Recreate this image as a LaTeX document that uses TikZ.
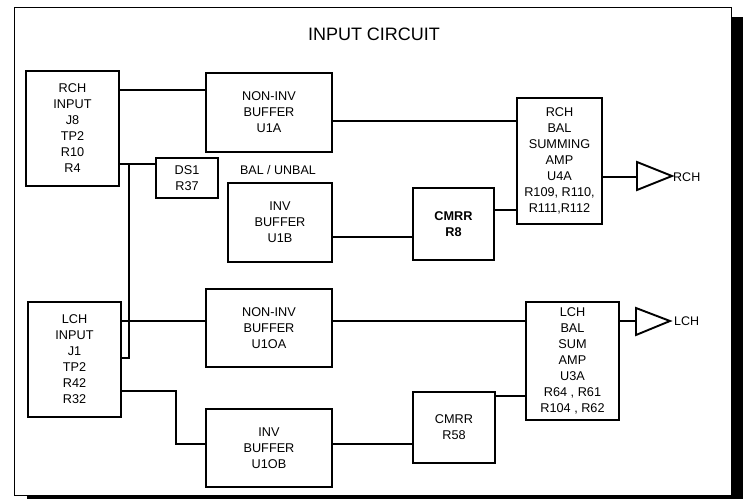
\documentclass[tikz,border=0pt]{standalone}
\usepackage{fontspec}
\setmainfont{Liberation Sans}
\begin{document}
\begin{tikzpicture}[x=1pt,y=-1pt,
  blk/.style={draw,line width=1.9pt,fill=white,align=center,inner sep=0pt,
    font=\fontsize{12.7}{16}\selectfont},
  wire/.style={line width=1.1pt},
  lbl/.style={font=\fontsize{12.5}{16}\selectfont,inner sep=0pt}]
\useasboundingbox (0,0) rectangle (743,499);
% shadow and frame
\fill[black] (27,17) rectangle (743,499);
\draw[line width=0.8pt,fill=white] (14,7) rectangle (731,495);
\node[font=\fontsize{18}{21}\selectfont,inner sep=0pt] (title) at (374,34) {INPUT CIRCUIT};
% blocks
\node[blk,minimum width=93pt,minimum height=115pt] (rin) at (72.5,128.5) {RCH\\INPUT\\J8\\TP2\\R10\\R4};
\node[blk,minimum width=126pt,minimum height=79pt] (u1a) at (269,112.5) {NON-INV\\BUFFER\\U1A};
\node[blk,minimum width=85pt,minimum height=126pt] (rsum) at (559.5,161) {RCH\\BAL\\SUMMING\\AMP\\U4A\\R109, R110,\\R111,R112};
\node[blk,minimum width=62pt,minimum height=40pt] (ds1) at (187,178) {DS1\\R37};
\node[lbl] (bal) at (278,170) {BAL / UNBAL};
\node[blk,minimum width=104pt,minimum height=79pt] (u1b) at (280,222.5) {INV\\BUFFER\\U1B};
\node[blk,minimum width=81pt,minimum height=72pt,font=\fontsize{12.7}{16}\selectfont\bfseries] (cmrr8) at (453.5,224) {CMRR\\R8};
\node[blk,minimum width=93pt,minimum height=115pt] (lin) at (74.5,359.5) {LCH\\INPUT\\J1\\TP2\\R42\\R32};
\node[blk,minimum width=126pt,minimum height=78pt] (u1oa) at (269,328) {NON-INV\\BUFFER\\U1OA};
\node[blk,minimum width=93pt,minimum height=118pt] (lsum) at (572.5,361) {LCH\\BAL\\SUM\\AMP\\U3A\\R64 , R61\\R104 , R62};
\node[blk,minimum width=126pt,minimum height=78pt] (u1ob) at (269,448) {INV\\BUFFER\\U1OB};
\node[blk,minimum width=82pt,minimum height=71pt] (cmrr58) at (454,427.5) {CMRR\\R58};
% output triangles
\coordinate (rtri) at (637,177);
\draw[line width=1.9pt,line join=miter] (rtri) -- (637,162) -- (672,176) -- (637,190) -- cycle;
\node[lbl,anchor=west] (rout) at (673,177) {RCH};
\coordinate (ltri) at (636,321);
\draw[line width=1.9pt,line join=miter] (ltri) -- (636,308) -- (670,321) -- (636,335) -- cycle;
\node[lbl,anchor=west] (lout) at (674,321) {LCH};
% junction coordinates
\coordinate (ja) at (129,164);
\coordinate (jb) at (129,358);
\coordinate (jc) at (176,391);
\coordinate (jd) at (176,444);
% wires
\draw[wire] (rin.east |- 0,90) -- (u1a.west |- 0,90);
\draw[wire] (u1a.east |- 0,121) -- (rsum.west |- 0,121);
\draw[wire] (rin.east |- 0,164) -- (ds1.west |- 0,164);
\draw[wire] (ja) -- (jb) -- (lin.east |- jb);
\draw[wire] (u1b.east |- 0,237) -- (cmrr8.west |- 0,237);
\draw[wire] (cmrr8.east |- 0,210) -- (rsum.west |- 0,210);
\draw[wire] (rsum.east |- rtri) -- (rtri);
\draw[wire] (lin.east |- 0,321) -- (u1oa.west |- 0,321);
\draw[wire] (u1oa.east |- 0,321) -- (lsum.west |- 0,321);
\draw[wire] (lsum.east |- ltri) -- (ltri);
\draw[wire] (lin.east |- jc) -- (jc) -- (jd) -- (u1ob.west |- jd);
\draw[wire] (u1ob.east |- jd) -- (cmrr58.west |- jd);
\draw[wire] (cmrr58.east |- 0,396) -- (lsum.west |- 0,396);
\end{tikzpicture}
\end{document}
